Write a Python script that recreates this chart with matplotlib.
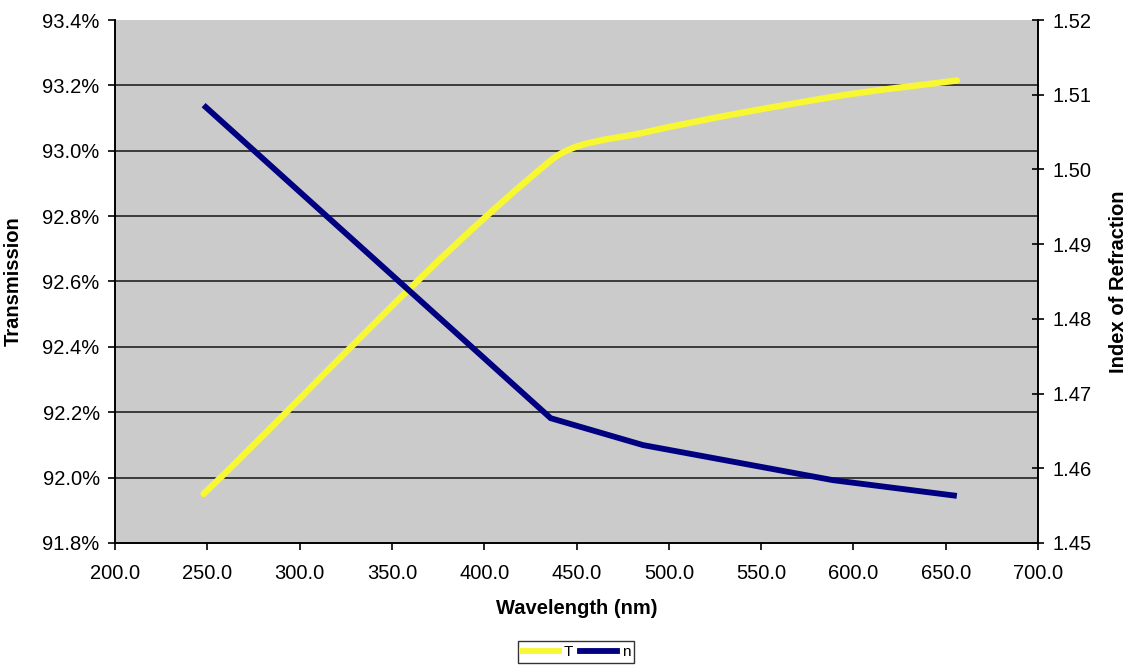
import matplotlib
matplotlib.use("Agg")
import numpy as np
import matplotlib.pyplot as plt
from matplotlib.path import Path
from matplotlib.patches import PathPatch
from matplotlib.lines import Line2D
from matplotlib.ticker import FuncFormatter

# ---- data ----
wavelength = [248, 436, 486, 589, 656]            # nm
transmission = [91.95, 92.97, 93.055, 93.165, 93.215]   # %
refr_index = [1.5086, 1.4667, 1.4631, 1.4584, 1.4563]

x_ticks = [200, 250, 300, 350, 400, 450, 500, 550, 600, 650, 700]
t_ticks = [91.8, 92.0, 92.2, 92.4, 92.6, 92.8, 93.0, 93.2, 93.4]
n_ticks = [1.45, 1.46, 1.47, 1.48, 1.49, 1.50, 1.51, 1.52]

plt.rcParams['font.family'] = ['Liberation Sans', 'DejaVu Sans']

YELLOW = '#F8F832'
BLUE = '#000080'
BG = '#CBCBCB'
FS = 14.5

fig = plt.figure(figsize=(11.33, 6.67), dpi=100)
ax = fig.add_axes([0.1015, 0.186, 0.8147, 0.784])
ax2 = ax.twinx()

ax.set_facecolor(BG)
ax.set_xlim(200, 700)
ax.set_ylim(91.8, 93.4)
ax2.set_ylim(1.45, 1.52)


# Smoothed line through the data points: cubic Bezier segments built in
# screen space (tangent from neighbours, handle length = 1/3 of segment).
def smooth_path(a, xs, ys, f=1 / 3):
    P = a.transData.transform(np.column_stack([xs, ys]))
    n = len(P)
    tang = []
    for i in range(n):
        d = P[min(i + 1, n - 1)] - P[max(i - 1, 0)]
        tang.append(d / np.hypot(*d))
    verts = [P[0]]
    codes = [Path.MOVETO]
    for i in range(n - 1):
        L = np.hypot(*(P[i + 1] - P[i]))
        verts += [P[i] + tang[i] * L * f, P[i + 1] - tang[i + 1] * L * f, P[i + 1]]
        codes += [Path.CURVE4] * 3
    verts = a.transData.inverted().transform(np.array(verts))
    return Path(verts, codes)


patch = PathPatch(smooth_path(ax, wavelength, transmission), facecolor='none',
                  edgecolor=YELLOW, lw=4.6, capstyle='round', joinstyle='round', zorder=3)
ax.add_patch(patch)

ax2.plot(wavelength, refr_index, color=BLUE, lw=4.2, solid_capstyle='butt',
         solid_joinstyle='miter', zorder=3)

# grid
for t in t_ticks[1:-1]:
    ax.axhline(t, color='#222222', lw=1.2, zorder=1)

ax.set_xticks(x_ticks)
ax.set_yticks(t_ticks)
ax2.set_yticks(n_ticks)
ax.xaxis.set_major_formatter(FuncFormatter(lambda v, p: f"{v:.1f}"))
ax.yaxis.set_major_formatter(FuncFormatter(lambda v, p: f"{v:.1f}%"))
ax2.yaxis.set_major_formatter(FuncFormatter(lambda v, p: f"{v:.2f}"))

for a in (ax, ax2):
    a.spines['top'].set_visible(False)
    for s in a.spines.values():
        s.set_color('black')
        s.set_linewidth(1.2)

ax.tick_params(axis='x', direction='out', length=5, width=1.2, labelsize=FS, colors='black', pad=10)
ax.tick_params(axis='y', direction='out', length=5, width=1.2, labelsize=FS, colors='black', pad=6)
ax2.tick_params(axis='y', direction='inout', length=9, width=1.2, labelsize=FS, pad=6)

ax.set_xlabel('Wavelength (nm)', fontsize=FS, fontweight='bold', labelpad=12)
ax.set_ylabel('Transmission', fontsize=FS, fontweight='bold', labelpad=14)
ax2.set_ylabel('Index of Refraction', fontsize=FS, fontweight='bold', rotation=90, labelpad=12)

handles = [Line2D([0], [0], color=YELLOW, lw=4.2), Line2D([0], [0], color=BLUE, lw=4.2)]
leg = fig.legend(handles, ['T', 'n'], loc='center', bbox_to_anchor=(0.5085, 0.0225),
                 ncol=2, fontsize=11, frameon=True, fancybox=False, handlelength=2.4,
                 handletextpad=0.3, columnspacing=0.5, borderpad=0.25, borderaxespad=0)
leg.get_frame().set_edgecolor('black')
leg.get_frame().set_linewidth(1.0)

fig.savefig('out.png', dpi=100)
